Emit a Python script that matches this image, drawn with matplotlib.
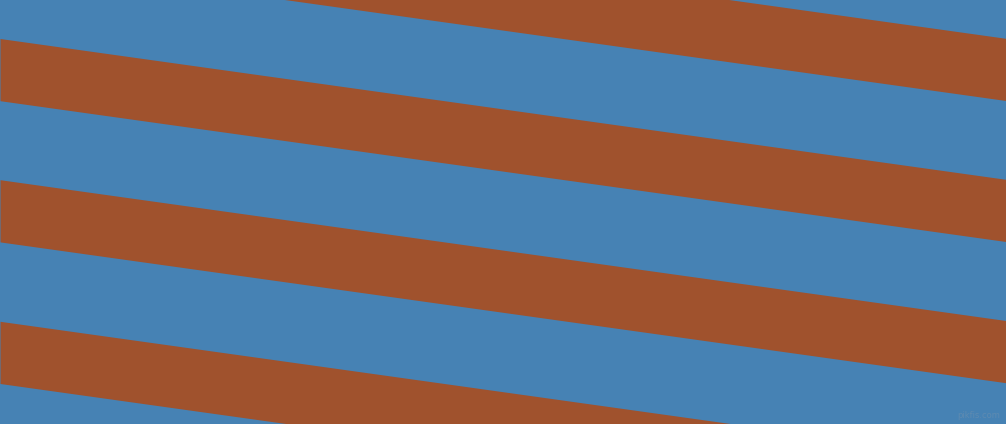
import numpy as np
import matplotlib
matplotlib.use("Agg")
from matplotlib import pyplot as plt

# stripe data (pixel units, y measured down from the top)
width_px = 1006
height_px = 424
stripe_tops = [-102.5, 38.5, 179.7, 321.3]   # upper edge of each brown band at x=0
stripe_depth = 62.2                           # vertical thickness of a brown band
slope = 0.140                                 # drop per pixel to the right
band_color = "#A0522D"
back_color = "#4682B4"

fig = plt.figure(figsize=(width_px / 100, height_px / 100), dpi=100)
ax = fig.add_axes([0, 0, 1, 1])
ax.set_facecolor(back_color)
fig.patch.set_facecolor(back_color)

x = np.array([0, width_px])
for top in stripe_tops:
    upper = top + slope * x
    ax.fill_between(x, upper, upper + stripe_depth, color=band_color, linewidth=0)

ax.set_xlim(0, width_px)
ax.set_ylim(height_px, 0)
ax.axis("off")

# faint watermark in the corner
ax.text(1000, 420, "pikfis.com", color="#8a9aab", alpha=0.35, fontsize=6,
        ha="right", va="bottom")

fig.savefig("out.png", dpi=100, facecolor=back_color)
